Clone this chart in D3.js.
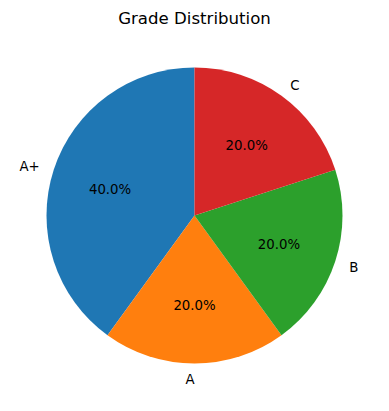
<!DOCTYPE html>
<html>
<head>
<meta charset="utf-8">
<script src="https://cdn.jsdelivr.net/npm/d3@7"></script>
<style>
  body { margin: 0; background: #fff; }
  text { font-family: "DejaVu Sans", sans-serif; fill: #000; }
</style>
</head>
<body>
<svg id="chart" width="389" height="411"></svg>
<script>
const grades = ['A+', 'A', 'B', 'C'];
const counts = [2, 1, 1, 1];
const colors = ['#1f77b4', '#ff7f0e', '#2ca02c', '#d62728'];

const width = 389, height = 411;
const cx = 194.5, cy = 215.5, radius = 148;

const svg = d3.select('#chart');

svg.append('text')
  .attr('x', cx)
  .attr('y', 18.5)
  .attr('text-anchor', 'middle')
  .attr('dominant-baseline', 'central')
  .style('font-size', '16.6px')
  .text('Grade Distribution');

const total = d3.sum(counts);
const color = d3.scaleOrdinal().domain(grades).range(colors);

// matplotlib: startangle=90, counterclockwise -> d3: start at 0, go negative
const pie = d3.pie().sort(null).startAngle(0).endAngle(-2 * Math.PI);
const arcs = pie(counts);
const arc = d3.arc().innerRadius(0).outerRadius(radius);

const g = svg.append('g').attr('transform', `translate(${cx},${cy})`);

g.selectAll('path')
  .data(arcs)
  .join('path')
  .attr('d', arc)
  .attr('fill', (d, i) => color(grades[i]));

const mid = d => (d.startAngle + d.endAngle) / 2;

// labels at 1.1 r
g.selectAll('text.label')
  .data(arcs)
  .join('text')
  .attr('class', 'label')
  .attr('x', d => 1.1 * radius * Math.sin(mid(d)))
  .attr('y', d => -1.1 * radius * Math.cos(mid(d)) + 1.5)
  .attr('text-anchor', d => Math.sin(mid(d)) < 0 ? 'end' : 'start')
  .attr('dominant-baseline', 'central')
  .style('font-size', '13.3px')
  .text((d, i) => grades[i]);

// percentages at 0.6 r
g.selectAll('text.pct')
  .data(arcs)
  .join('text')
  .attr('class', 'pct')
  .attr('x', d => 0.6 * radius * Math.sin(mid(d)))
  .attr('y', d => -0.6 * radius * Math.cos(mid(d)) + 1.5)
  .attr('text-anchor', 'middle')
  .attr('dominant-baseline', 'central')
  .style('font-size', '13.3px')
  .text(d => (100 * d.value / total).toFixed(1) + '%');
</script>
</body>
</html>
